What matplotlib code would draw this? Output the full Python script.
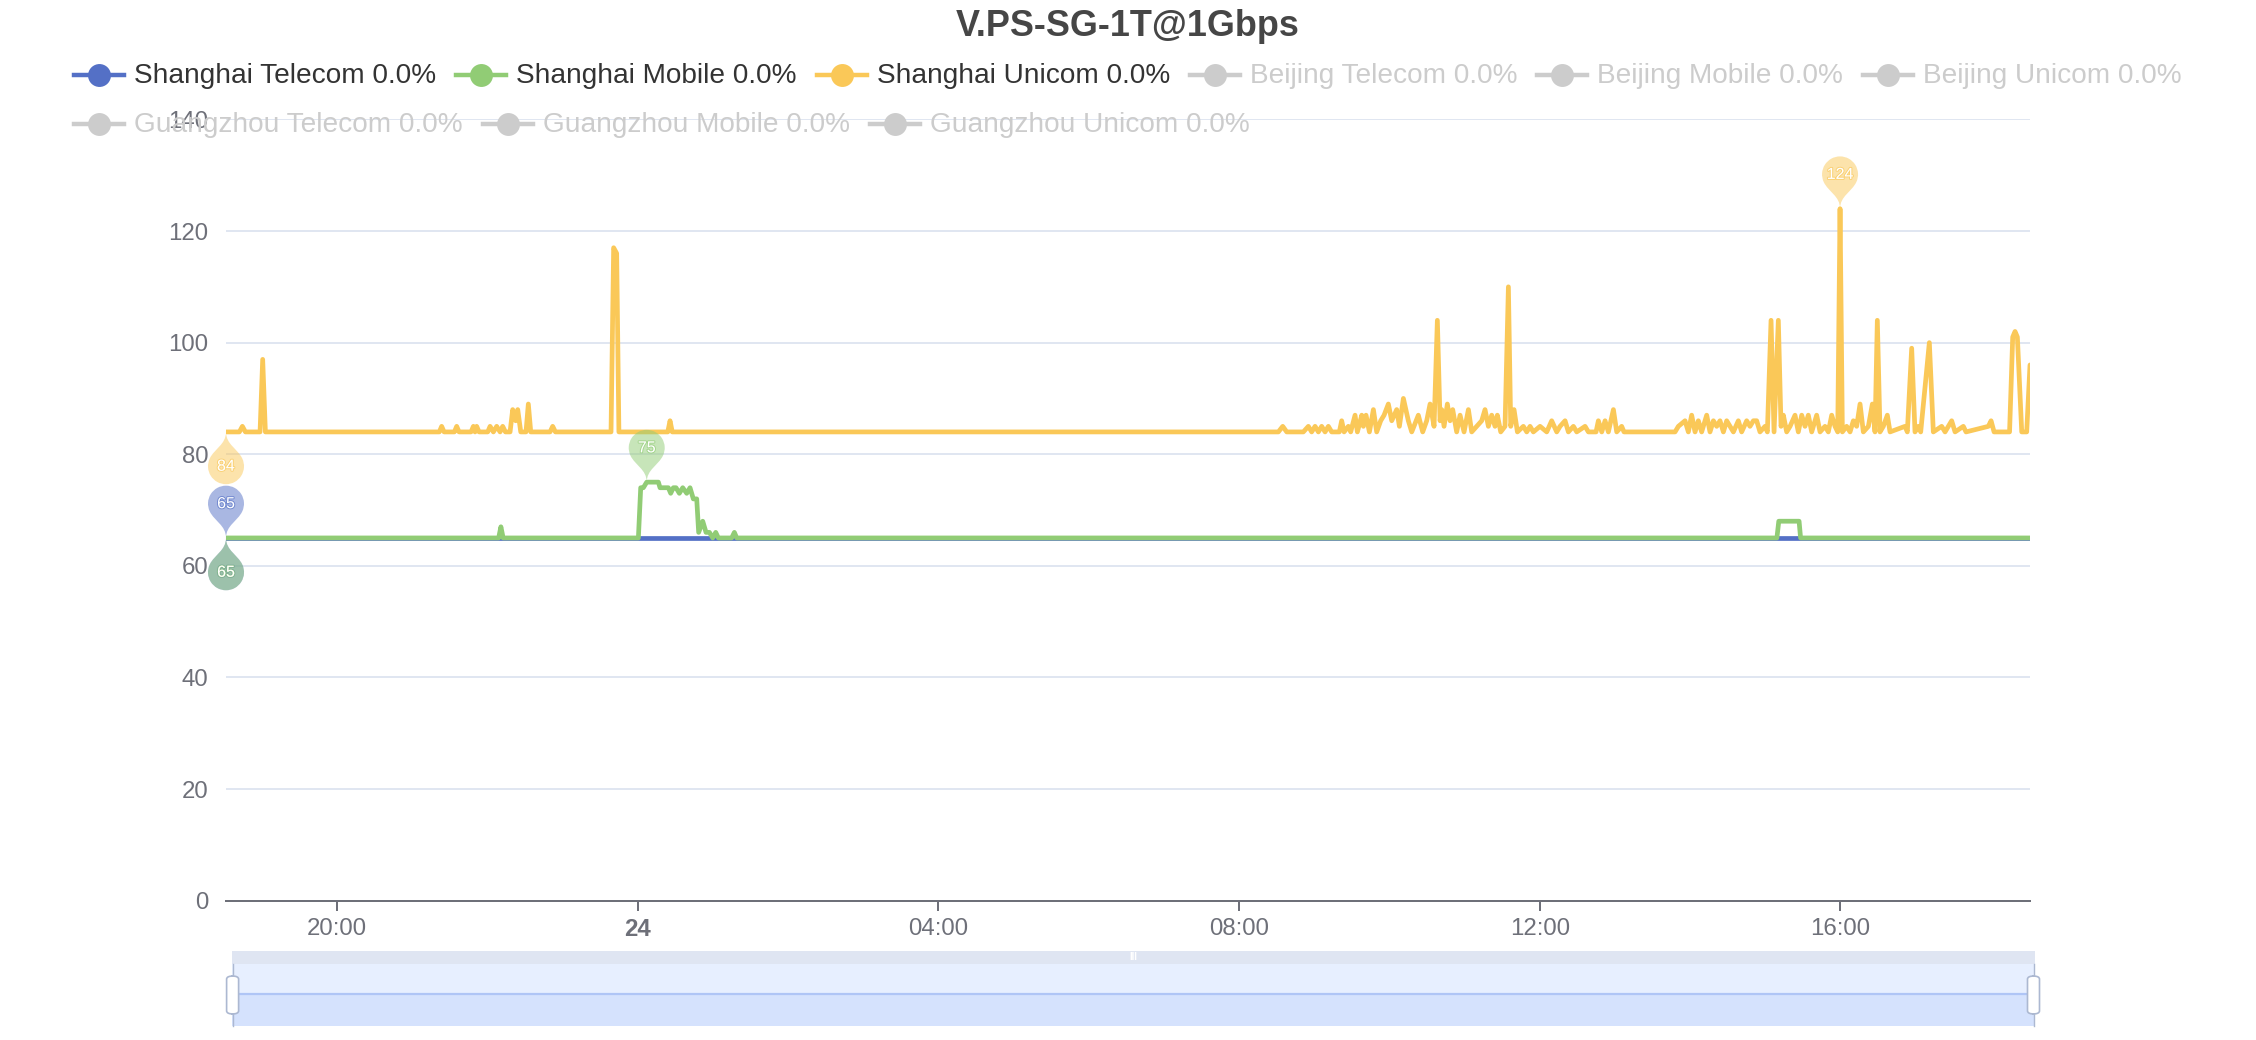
"""
V.PS-SG-1T@1Gbps latency chart (ECharts-style look)
"""
import matplotlib
matplotlib.use('Agg')
import matplotlib.pyplot as plt
import numpy as np
from matplotlib.path import Path
from matplotlib.lines import Line2D
from matplotlib.patches import Rectangle, FancyBboxPatch, PathPatch
from matplotlib.transforms import IdentityTransform
from matplotlib import patheffects as pe

plt.rcParams['font.family'] = ['Liberation Sans', 'DejaVu Sans']

W, H = 2256, 1040

TITLE = 'V.PS-SG-1T@1Gbps'
series_names = ['Shanghai Telecom', 'Shanghai Mobile', 'Shanghai Unicom',
                'Beijing Telecom', 'Beijing Mobile', 'Beijing Unicom',
                'Guangzhou Telecom', 'Guangzhou Mobile', 'Guangzhou Unicom']
loss_pct = [0.0] * 9
series_colors = ['#5470c6', '#91cc75', '#fac858']
active = [True, True, True, False, False, False, False, False, False]

# x axis: hours since day 23 00:00
tick_hours = [20, 24, 28, 32, 36, 40]
tick_labels = ['20:00', '24', '04:00', '08:00', '12:00', '16:00']
y_ticks = [0, 20, 40, 60, 80, 100, 120, 140]

# (hour, ms)
telecom = [(18.523, 65), (42.522, 65)]

mobile = [
    (18.523, 65), (22.150, 65), (22.180, 67), (22.210, 65),
    (24.009, 65), (24.040, 74), (24.075, 74), (24.120, 75), (24.186, 75),
    (24.230, 75), (24.275, 75), (24.297, 74), (24.408, 74), (24.439, 73),
    (24.474, 74), (24.510, 74), (24.554, 73), (24.599, 74), (24.652, 73),
    (24.696, 74), (24.740, 72), (24.785, 72), (24.811, 66), (24.865, 68),
    (24.909, 66), (24.954, 66), (24.998, 65), (25.038, 66), (25.073, 65),
    (25.250, 65), (25.286, 66), (25.317, 65),
    (39.155, 65), (39.180, 68), (39.450, 68), (39.470, 65), (42.522, 65),
]

unicom = [
    (18.523, 84), (18.701, 84), (18.741, 85), (18.781, 84),
    (18.976, 84), (19.011, 97), (19.047, 84),
    (21.361, 84), (21.392, 85), (21.424, 84),
    (21.561, 84), (21.592, 85), (21.623, 84),
    (21.783, 84), (21.814, 85), (21.836, 84), (21.858, 85), (21.889, 84),
    (22.005, 84), (22.036, 85), (22.080, 84), (22.124, 85), (22.169, 84),
    (22.204, 85), (22.240, 84),
    (22.302, 84), (22.337, 88), (22.377, 86), (22.404, 88), (22.444, 84),
    (22.514, 84), (22.545, 89), (22.577, 84),
    (22.834, 84), (22.869, 85), (22.905, 84),
    (23.645, 84), (23.680, 117), (23.720, 116), (23.750, 84),
    (24.400, 84), (24.430, 86), (24.460, 84),
    (32.523, 84), (32.581, 85), (32.634, 84),
    (32.855, 84), (32.922, 85), (32.966, 84), (33.011, 85), (33.055, 84),
    (33.099, 85), (33.144, 84), (33.188, 85), (33.232, 84),
    (33.334, 84), (33.365, 86), (33.397, 84), (33.454, 85), (33.485, 84),
    (33.543, 87), (33.574, 84), (33.632, 87), (33.654, 85), (33.689, 87),
    (33.734, 84), (33.787, 88), (33.831, 84), (33.884, 86), (33.929, 87),
    (33.986, 89), (34.031, 86), (34.097, 88), (34.133, 85), (34.186, 90),
    (34.252, 86), (34.297, 84), (34.385, 87), (34.443, 84), (34.496, 86),
    (34.541, 89), (34.594, 85), (34.638, 104), (34.674, 86), (34.696, 88),
    (34.727, 85), (34.771, 89), (34.807, 86), (34.842, 88), (34.895, 84),
    (34.940, 87), (34.993, 84), (35.051, 88), (35.095, 84), (35.162, 85),
    (35.228, 86), (35.272, 88), (35.317, 85), (35.361, 87), (35.405, 85),
    (35.436, 87), (35.481, 84), (35.538, 85), (35.583, 110), (35.614, 85),
    (35.658, 88), (35.703, 84), (35.782, 85), (35.827, 84), (35.871, 85),
    (35.915, 84), (36.004, 85), (36.093, 84), (36.159, 86), (36.226, 84),
    (36.270, 85), (36.337, 86), (36.381, 84), (36.448, 85), (36.492, 84),
    (36.603, 85), (36.647, 84), (36.749, 84), (36.780, 86), (36.825, 84),
    (36.869, 86), (36.913, 84), (36.980, 88), (37.024, 84), (37.090, 85),
    (37.121, 84),
    (37.800, 84), (37.844, 85), (37.933, 86), (37.977, 84), (38.021, 87),
    (38.066, 84), (38.110, 86), (38.154, 84), (38.221, 87), (38.265, 84),
    (38.310, 86), (38.354, 85), (38.398, 86), (38.443, 84), (38.487, 86),
    (38.531, 85), (38.576, 84), (38.642, 86), (38.686, 84), (38.753, 86),
    (38.797, 85), (38.842, 86), (38.886, 86), (38.930, 84), (38.997, 85),
    (39.028, 84), (39.077, 104), (39.117, 84), (39.174, 104), (39.210, 85),
    (39.241, 87), (39.285, 84), (39.330, 85), (39.396, 87), (39.440, 84),
    (39.485, 87), (39.529, 85), (39.573, 87), (39.618, 84), (39.684, 87),
    (39.729, 84), (39.795, 85), (39.839, 84), (39.884, 87), (39.928, 85),
    (39.964, 84), (39.995, 124), (40.026, 84), (40.083, 85), (40.128, 84),
    (40.172, 86), (40.216, 85), (40.261, 89), (40.305, 84), (40.372, 85),
    (40.425, 89), (40.460, 84), (40.491, 104), (40.527, 84), (40.571, 85),
    (40.624, 87), (40.660, 84), (40.859, 85), (40.890, 84), (40.948, 99),
    (40.992, 84), (41.037, 85), (41.068, 84), (41.183, 100), (41.236, 84),
    (41.347, 85), (41.392, 84), (41.436, 85), (41.480, 86), (41.525, 84),
    (41.635, 85), (41.671, 84), (41.968, 85), (42.004, 86), (42.044, 84),
    (42.250, 84), (42.292, 101), (42.323, 102), (42.354, 101), (42.412, 84),
    (42.478, 84), (42.522, 96),
]

series_data = [telecom, mobile, unicom]

AXIS_C = '#6E7079'
GRID_C = '#E0E6F1'


def fx(x):
    return x / W


def fy(y):
    return 1 - y / H


def pin_path(S, flip=False):
    """ECharts 'pin' symbol, tip at origin, 1 unit = 1 px"""
    r = 0.3 * S
    h = S
    dy = r * r / (h - r)
    cy = h - r - dy
    a = np.arcsin(dy / r)
    dx = np.cos(a) * r
    tx, ty = np.sin(a), np.cos(a)
    c1, c2 = r * 0.6, r * 0.7
    by = cy - dy
    arc = Path.arc(np.degrees(-a), 180 + np.degrees(a))
    verts = list(arc.vertices * r + np.array([0, cy]))
    codes = list(arc.codes)
    verts += [(-dx + tx * c1, by - ty * c1), (0, c2), (0, 0),
              (0, c2), (dx - tx * c1, by - ty * c1), (dx, by), (0, 0)]
    codes += [Path.CURVE4] * 6 + [Path.CLOSEPOLY]
    v = np.array(verts, dtype=float)
    if flip:
        v[:, 1] *= -1
    return v, codes, cy


fig = plt.figure(figsize=(W / 100, H / 100), dpi=100)
fig.patch.set_facecolor('white')

# main grid
ax_l, ax_r, ax_b, ax_t = 226, 2030, 900.7, 119.4
ax = fig.add_axes([fx(ax_l), fy(ax_b), (ax_r - ax_l) / W, (ax_b - ax_t) / H])
ax.set_xlim(telecom[0][0], telecom[-1][0])
ax.set_ylim(0, 140)
for s in ['top', 'right', 'left']:
    ax.spines[s].set_visible(False)
ax.spines['bottom'].set_color(AXIS_C)
ax.spines['bottom'].set_linewidth(1.44)
ax.spines['bottom'].set_zorder(4)
ax.set_yticks(y_ticks)
ax.yaxis.grid(True, color=GRID_C, linewidth=1.44)
ax.set_axisbelow(True)
ax.tick_params(axis='y', length=0, pad=12.5, labelsize=17.28, labelcolor=AXIS_C)
ax.set_xticks(tick_hours)
ax.set_xticklabels(tick_labels)
ax.tick_params(axis='x', length=7.2, width=1.44, color=AXIS_C, pad=5,
               labelsize=17.28, labelcolor=AXIS_C)
ax.get_xticklabels()[1].set_fontweight('bold')

for pts, col in zip(series_data, series_colors):
    t = [p[0] for p in pts]
    v = [p[1] for p in pts]
    ax.plot(t, v, color=col, linewidth=3.4, solid_joinstyle='round',
            solid_capstyle='round', zorder=3)

# max / min pins (drawn in pixel space at each data point)
S = 60
for pts, col in zip(series_data, series_colors):
    t = np.array([p[0] for p in pts])
    v = np.array([p[1] for p in pts])
    for idx, flip in [(np.argmax(v), False), (np.argmin(v), True)]:
        verts, codes, cy = pin_path(S, flip)
        px, py = ax.transData.transform((t[idx], v[idx]))
        pin = PathPatch(Path(verts + np.array([px, py]), codes),
                        transform=IdentityTransform(), facecolor=col,
                        edgecolor='none', alpha=0.5, zorder=6)
        pin.set_clip_on(False)
        ax.add_artist(pin)
        off = -cy * 0.72 if flip else cy * 0.72
        ax.annotate(f'{v[idx]:g}', (t[idx], v[idx]), xytext=(0, off),
                    textcoords='offset points', ha='center', va='center',
                    fontsize=11.5, color='white', zorder=8, annotation_clip=False,
                    path_effects=[pe.withStroke(linewidth=1.4, foreground=col + 'aa')])

# title
fig.text(0.5, fy(26), TITLE, ha='center', va='center', fontsize=25.92,
         fontweight='bold', color='#464646')

# legend (two rows, ECharts style)
renderer = fig.canvas.get_renderer()
labels = [f'{n} {p:.1f}%' for n, p in zip(series_names, loss_pct)]
texts = []
for lab, on in zip(labels, active):
    texts.append(fig.text(0, 0, lab, fontsize=20.16, va='center',
                          color='#333333' if on else '#cccccc'))
widths = [tx.get_window_extent(renderer).width for tx in texts]
item_w = [60 + w for w in widths]
rows = [range(0, 6), range(6, 9)]
row_y = [75, 124]
row1_w = sum(item_w[i] for i in rows[0]) + 20 * (len(rows[0]) - 1)
x0 = (W - row1_w) / 2
for row, yy in zip(rows, row_y):
    x = x0
    for i in row:
        col = series_colors[i] if active[i] else '#cccccc'
        fig.add_artist(Line2D([fx(x), fx(x + 50)], [fy(yy), fy(yy)],
                              transform=fig.transFigure, color=col, linewidth=3.2))
        fig.add_artist(Line2D([fx(x + 25)], [fy(yy)], transform=fig.transFigure,
                              marker='o', markersize=16.5, color=col,
                              markeredgewidth=0, linestyle='none'))
        texts[i].set_position((fx(x + 60), fy(yy + 1)))
        x += item_w[i] + 20

# dataZoom slider
dz_l, dz_r, dz_t, dz_m, dz_b = 231.6, 2034.5, 951, 964, 1026
fig.add_artist(Rectangle((fx(dz_l), fy(dz_m)), (dz_r - dz_l) / W, (dz_m - dz_t) / H,
                         transform=fig.transFigure, facecolor='#DFE5F2',
                         edgecolor='none', zorder=-2))
fig.add_artist(Rectangle((fx(dz_l), fy(dz_b)), (dz_r - dz_l) / W, (dz_b - dz_m) / H,
                         transform=fig.transFigure, facecolor='#E7EFFF',
                         edgecolor='none', zorder=-2))
fig.text(fx((dz_l + dz_r) / 2), fy((dz_t + dz_m) / 2), 'III', ha='center',
         va='center', fontsize=7, color='white', fontweight='bold')

dz = fig.add_axes([fx(dz_l), fy(dz_b), (dz_r - dz_l) / W, (dz_b - dz_m) / H])
dz.set_zorder(2)
dz.set_xlim(telecom[0][0], telecom[-1][0])
dz.set_ylim(0, 126)
dz.axis('off')
dz_t_vals = [p[0] for p in telecom]
dz_v_vals = [p[1] for p in telecom]
dz.fill_between(dz_t_vals, dz_v_vals, color='#D5E2FD', linewidth=0)
dz.plot(dz_t_vals, dz_v_vals, color='#AFC5F6', linewidth=1.6)

for hx in [dz_l + 1, dz_r - 1]:
    fig.add_artist(Line2D([fx(hx), fx(hx)], [fy(dz_m), fy(dz_b)],
                          transform=fig.transFigure, color='#ACB8D1',
                          linewidth=1, zorder=4))
    fig.add_artist(FancyBboxPatch((fx(hx - 6), fy(1014)), 12 / W, 38 / H,
                                  boxstyle='round,pad=0,rounding_size=0.003',
                                  transform=fig.transFigure, facecolor='white',
                                  edgecolor='#ACB8D1', linewidth=1.2, zorder=5))

plt.savefig('out.png', dpi=100, facecolor='white')
plt.close()
